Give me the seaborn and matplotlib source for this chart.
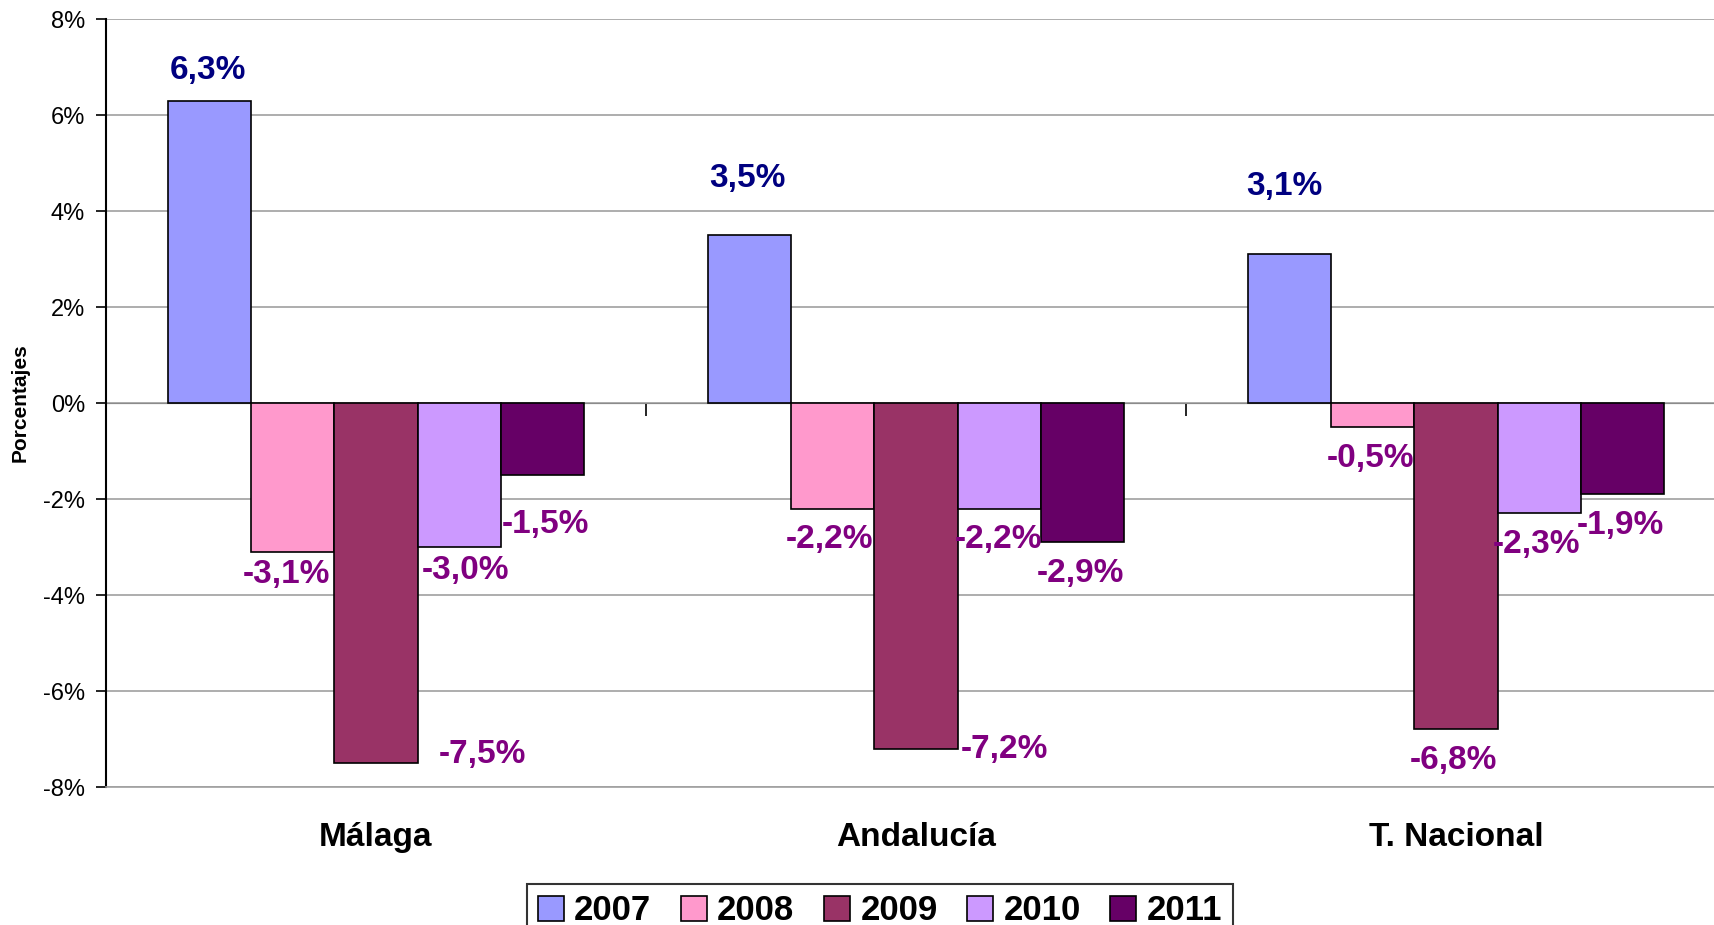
import pandas as pd
import seaborn as sns
import matplotlib.pyplot as plt
from matplotlib.patches import Patch
from matplotlib.transforms import blended_transform_factory

# data (percent)
regions = ['Málaga', 'Andalucía', 'T. Nacional']
years = ['2007', '2008', '2009', '2010', '2011']
v2007 = [6.3, 3.5, 3.1]
v2008 = [-3.1, -2.2, -0.5]
v2009 = [-7.5, -7.2, -6.8]
v2010 = [-3.0, -2.2, -2.3]
v2011 = [-1.5, -2.9, -1.9]
series = [v2007, v2008, v2009, v2010, v2011]

colors = ['#9999FF', '#FF99CC', '#993366', '#CC99FF', '#660066']

# manual label nudges in pixels (dx, dy) from the bar end, per year then region
label_nudge = [
    [(-2, 30), (-2, 56), (-5, 68)],
    [(-6, -23), (-3, -31), (-2, -31)],
    [(106, 8), (88, -1), (-3, -31)],
    [(6, -24), (-1, -31), (-3, -31)],
    [(3, -50), (-2, -31), (-2, -31)],
]

rows = []
for yr, vals in zip(years, series):
    for reg, v in zip(regions, vals):
        rows.append({'region': reg, 'year': yr, 'value': v})
df = pd.DataFrame(rows)

sns.set_style('white')
plt.rcParams['font.family'] = ['Liberation Sans', 'DejaVu Sans']
plt.rcParams['text.color'] = 'black'
plt.rcParams['axes.labelcolor'] = 'black'
plt.rcParams['ytick.color'] = 'black'
plt.rcParams['xtick.color'] = 'black'

fig = plt.figure(figsize=(17.15, 9.25), dpi=100)
ax = fig.add_axes([106 / 1715, 138 / 925, 1620 / 1715, 768 / 925])

sns.barplot(data=df, x='region', y='value', hue='year', order=regions,
            hue_order=years, palette=colors, width=0.77, edgecolor='black',
            linewidth=1.2, saturation=1, ax=ax, legend=False)

ax.set_ylim(-8, 8)
ax.set_xlim(-0.5, 2.5)
ax.set_yticks(range(-8, 9, 2))
ax.set_yticklabels([f'{t}%' for t in range(-8, 9, 2)])
ax.tick_params(axis='y', direction='out', length=7, width=1.2, pad=8,
               left=True, colors='black', labelsize=17)
ax.yaxis.grid(True, color='#a0a0a0', linewidth=1.2)
ax.set_axisbelow(True)

for s in ['top', 'right']:
    ax.spines[s].set_visible(False)
ax.spines['left'].set_color('black')
ax.spines['left'].set_linewidth(1.5)
ax.spines['bottom'].set_color('#a0a0a0')
ax.spines['bottom'].set_linewidth(1.2)

# category names below the plot area
ax.set_xticks([])
ax.set_xlabel('')
trans = blended_transform_factory(ax.transData, ax.transAxes)
for i, reg in enumerate(regions):
    ax.text(i, -0.066, reg, transform=trans, ha='center', va='center',
            fontsize=24, fontweight='bold', color='black')

# zero line with ticks between categories
zero = ax.secondary_xaxis(0.5)
zero.set_xticks([0.5, 1.5])
zero.set_xticklabels([])
zero.tick_params(direction='in', length=9, width=1.2, colors='black')
zero.spines['bottom'].set_linewidth(1.5)
zero.spines['bottom'].set_color('black')

ax.set_ylabel('Porcentajes', fontsize=15, fontweight='bold', color='black')
ax.yaxis.set_label_coords(-0.047, 0.5)

# data labels
px = 72 / 100
for k, cont in enumerate(ax.containers):
    col = '#000080' if k == 0 else '#800080'
    for j, bar in enumerate(cont):
        v = series[k][j]
        xc = bar.get_x() + bar.get_width() / 2
        dx, dy = label_nudge[k][j]
        ax.annotate(f'{v:.1f}%'.replace('.', ','), xy=(xc, v),
                    xytext=(dx * px, dy * px), textcoords='offset points',
                    ha='center', va='center', fontsize=24,
                    fontweight='bold', color=col, annotation_clip=False)

handles = [Patch(facecolor=c, edgecolor='black', linewidth=1.2) for c in colors]
leg = fig.legend(handles, years, loc='upper center', ncol=5,
                 bbox_to_anchor=(880 / 1715, 1 - 884 / 925),
                 frameon=True, fancybox=False, edgecolor='black',
                 prop={'weight': 'bold', 'size': 25},
                 handlelength=0.75, handleheight=0.75, handletextpad=0.3,
                 columnspacing=0.85, borderpad=0.3, borderaxespad=0)
leg.get_frame().set_linewidth(1.5)
for t in leg.get_texts():
    t.set_color('black')

fig.savefig('out.png', dpi=100)
